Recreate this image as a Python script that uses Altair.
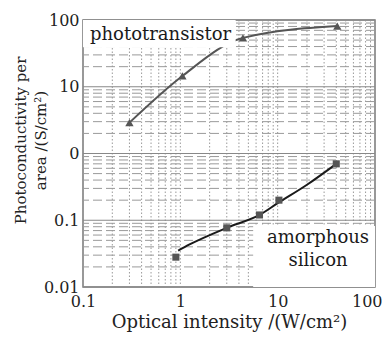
import altair as alt
import pandas as pd

# ---- data ----
photo_x = [0.3, 1.05, 4.4, 41]
photo_y = [2.9, 14.5, 54, 81]
asi_x = [0.9, 3.0, 6.5, 10.3, 40]
asi_y = [0.028, 0.077, 0.12, 0.2, 0.7]
asi_fit_x = [0.95, 1.23, 3.0, 6.5, 10, 20, 40]
asi_fit_y = [0.035, 0.043, 0.077, 0.12, 0.18, 0.34, 0.7]

x_ticks = [0.1, 1, 10, 100]
x_tick_labels = ["0.1", "1", "10", "100"]
y_ticks = [0.01, 0.1, 1, 10, 100]
y_tick_labels = ["0.01", "0.1", "0", "10", "100"]
x_minor = [0.2, 0.3, 0.4, 0.5, 0.6, 0.7, 0.8, 0.9,
           2, 3, 4, 5, 6, 7, 8, 9,
           20, 30, 40, 50, 60, 70, 80, 90]
y_minor = [0.02, 0.03, 0.04, 0.05, 0.06, 0.07, 0.08, 0.09,
           0.2, 0.3, 0.4, 0.5, 0.6, 0.7, 0.8, 0.9,
           2, 3, 4, 5, 6, 7, 8, 9,
           20, 30, 40, 50, 60, 70, 80, 90]

label_text = ["phototransistor", "amorphous", "silicon"]
label_x = [0.118, 26, 26]
label_y = [60, 0.054, 0.0245]
label_align = ["left", "center", "center"]

box_x = [0.1, 5.6]
box_x2 = [3.7, 100]
box_y = [100, 0.082]
box_y2 = [39, 0.01]

FONT = "DejaVu Serif"
GRID = "#9a9a9a"

xs = alt.Scale(type="log", domain=[0.1, 100], nice=False)
ys = alt.Scale(type="log", domain=[0.01, 100], nice=False)

def expr_from(vals, labs):
    e = "''"
    for v, l in zip(vals, labs):
        e = f"abs(datum.value - {v}) < {v}*1e-6 ? '{l}' : ({e})"
    return e

photo_df = pd.DataFrame({"x": photo_x, "y": photo_y})
asi_df = pd.DataFrame({"x": asi_x, "y": asi_y})
fit_df = pd.DataFrame({"x": asi_fit_x, "y": asi_fit_y})
xmaj_df = pd.DataFrame({"x": x_ticks})
xmin_df = pd.DataFrame({"x": x_minor})
ymaj_df = pd.DataFrame({"y": y_ticks})
ymin_df = pd.DataFrame({"y": y_minor})
lab_df = pd.DataFrame({"t": label_text, "x": label_x, "y": label_y, "a": label_align})
box_df = pd.DataFrame({"x": box_x, "x2": box_x2, "y": box_y, "y2": box_y2})

x_axis = alt.Axis(values=x_ticks, labelExpr=expr_from(x_ticks, x_tick_labels),
                  title="Optical intensity /(W/cm²)", grid=False, ticks=False, domain=False,
                  labelFont=FONT, labelFontSize=16, labelColor="#222", labelPadding=6,
                  labelAlign={"expr": "datum.value >= 99 ? 'right' : 'center'"},
                  labelOffset={"expr": "datum.value >= 99 ? 7 : 0"},
                  titleFont=FONT, titleFontSize=18, titleFontWeight="normal", titleColor="#222",
                  titlePadding=4, labelFlush=False, labelOverlap=False)
y_axis = alt.Axis(values=y_ticks, labelExpr=expr_from(y_ticks, y_tick_labels),
                  title=["Photoconductivity per", "area /(S/cm²)"], grid=False, ticks=False,
                  domain=False, labelFont=FONT, labelFontSize=16, labelColor="#222",
                  labelPadding=4, titleFont=FONT, titleFontSize=15, titleFontWeight="normal",
                  titleColor="#222", titleLineHeight=20, titleX=-70, titleY=120,
                  titleAngle=270, titleBaseline="top", titleAlign="center",
                  labelFlush=False, labelOverlap=False)

X = lambda f="x:Q": alt.X(f, scale=xs, axis=x_axis)
Y = lambda f="y:Q": alt.Y(f, scale=ys, axis=y_axis)

vgrid_min = alt.Chart(xmin_df).mark_rule(color=GRID, strokeWidth=1, strokeDash=[1.5, 2]).encode(x=X())
vgrid_maj = alt.Chart(xmaj_df).mark_rule(color=GRID, strokeWidth=1, strokeDash=[1.5, 2]).encode(x=X())
hgrid_min = alt.Chart(ymin_df).mark_rule(color=GRID, strokeWidth=1, strokeDash=[9, 4]).encode(y=Y())
hgrid_maj = alt.Chart(ymaj_df).mark_rule(color="#888", strokeWidth=1.2).encode(y=Y())

photo_line = alt.Chart(photo_df).mark_line(color="#555", strokeWidth=2, interpolate="monotone").encode(
    x=X(), y=Y())
fit_line = alt.Chart(fit_df).mark_line(color="#1a1a1a", strokeWidth=2, interpolate="monotone").encode(
    x=X(), y=Y())

boxes = alt.Chart(box_df).mark_rect(color="white").encode(
    x=X(), x2="x2:Q", y=Y(), y2="y2:Q")

labels_left = alt.Chart(lab_df[lab_df.a == "left"]).mark_text(
    font=FONT, fontSize=18, color="#1a1a1a", align="left", baseline="middle").encode(
    x=X(), y=Y(), text="t:N")
labels_center = alt.Chart(lab_df[lab_df.a == "center"]).mark_text(
    font=FONT, fontSize=18, color="#1a1a1a", align="center", baseline="middle").encode(
    x=X(), y=Y(), text="t:N")

photo_pts = alt.Chart(photo_df).mark_point(shape="triangle-up", filled=True, color="#555",
                                           size=70, opacity=1).encode(x=X(), y=Y())
asi_pts = alt.Chart(asi_df).mark_point(shape="square", filled=True, color="#555",
                                       size=50, opacity=1).encode(x=X(), y=Y())

chart = alt.layer(
    vgrid_min, vgrid_maj, hgrid_min, hgrid_maj,
    photo_line, fit_line, boxes, labels_left, labels_center, photo_pts, asi_pts
).properties(
    width=292, height=267,
    autosize=alt.AutoSizeParams(type="none"),
    padding={"left": 75, "top": 12, "right": 7, "bottom": 50},
    background="white",
).configure_view(stroke="#777", strokeWidth=1.5)

chart.save("out.html", embed_options={"renderer": "svg", "actions": False})
